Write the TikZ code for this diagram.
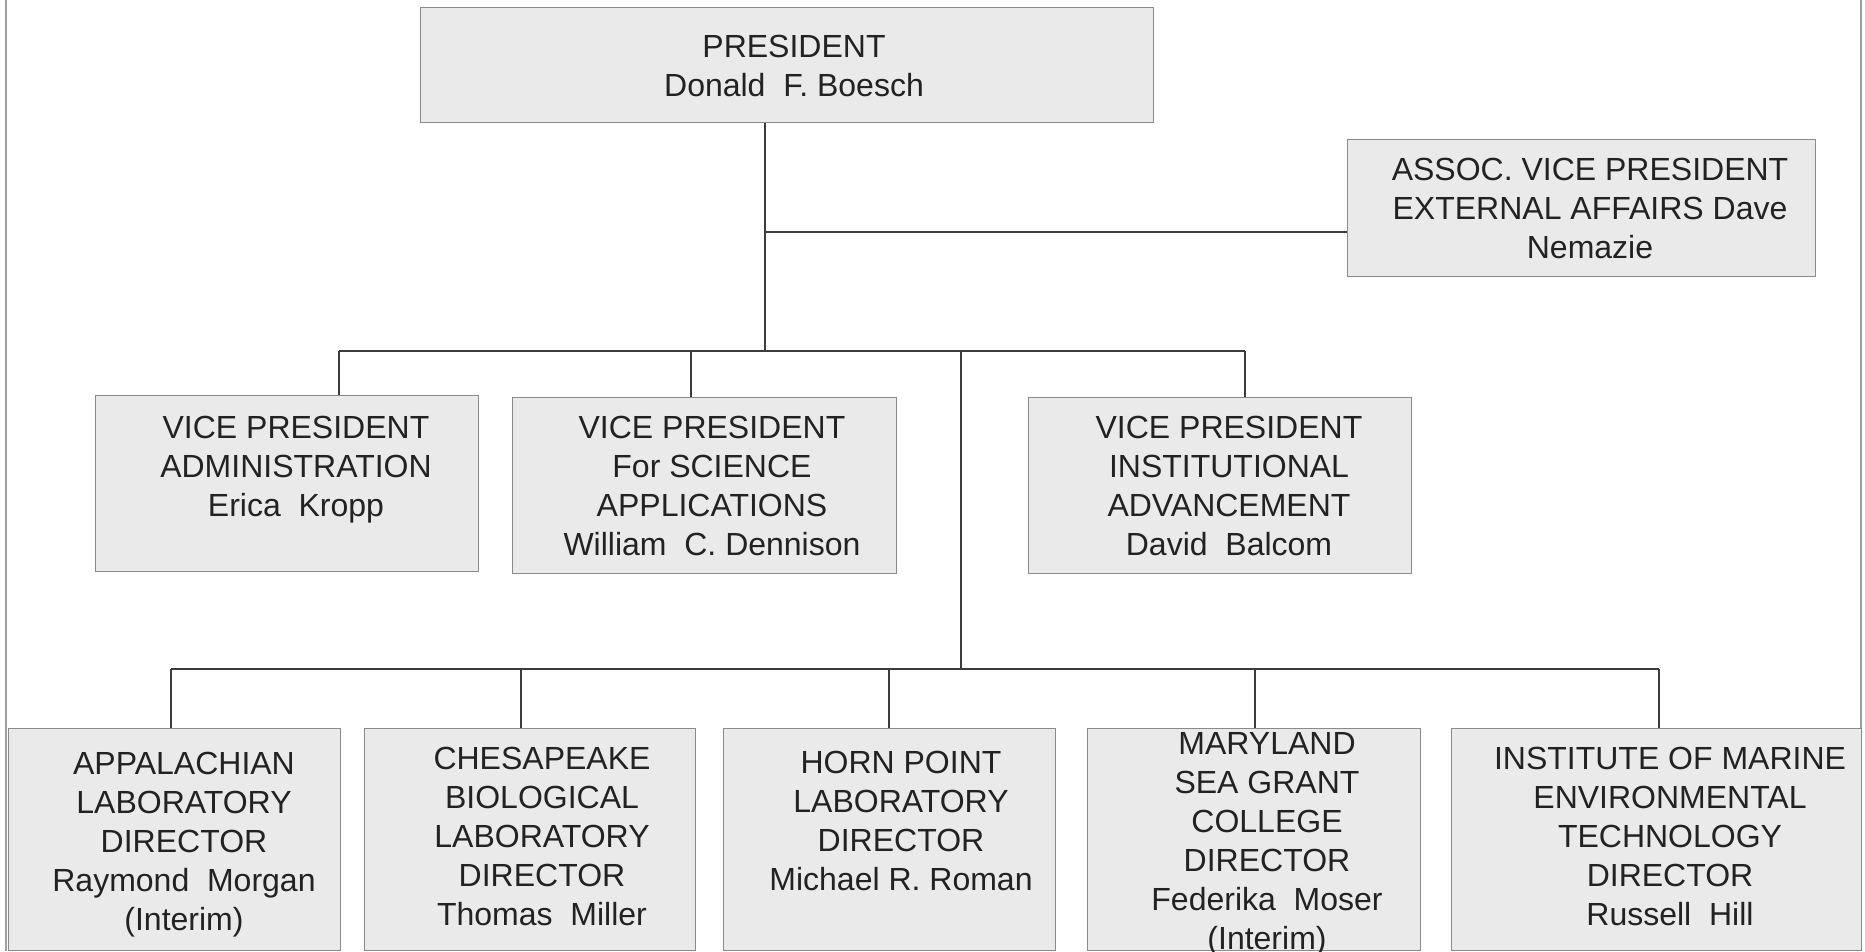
\documentclass[tikz,border=0pt]{standalone}
\usepackage{fontspec}
\setmainfont{Liberation Sans}
\definecolor{boxfill}{HTML}{EAEAEA}
\definecolor{boxline}{HTML}{8A8A8A}
\definecolor{linkcol}{HTML}{3C3C3C}
\definecolor{txtcol}{HTML}{222222}
\definecolor{framecol}{HTML}{A0A0A0}
\begin{document}
\begin{tikzpicture}[x=1pt,y=-1pt,
  box/.style={draw=boxline, fill=boxfill, line width=1.3pt, inner sep=0pt, anchor=north west},
  lbl/.style={anchor=north, inner sep=0pt, align=center, text=txtcol, font=\fontsize{32}{39}\selectfont},
  link/.style={draw=linkcol, line width=1.3pt},
  frameline/.style={draw=framecol, line width=2pt}]
\useasboundingbox (0,0) rectangle (1865,951);
% frame
\draw[frameline] (6,0) -- (6,951);
\draw[frameline] (1861,0) -- (1861,951);
% boxes
\node[box, minimum width=733pt, minimum height=115pt] (pres) at (420,7) {};
\node[box, minimum width=468pt, minimum height=137pt] (assoc) at (1347,139) {};
\node[box, minimum width=383pt, minimum height=176pt] (vp1) at (95,395) {};
\node[box, minimum width=384pt, minimum height=176pt] (vp2) at (512,397) {};
\node[box, minimum width=383pt, minimum height=176pt] (vp3) at (1028,397) {};
\node[box, minimum width=332pt, minimum height=222pt] (b1) at (8,728) {};
\node[box, minimum width=331pt, minimum height=222pt] (b2) at (364,728) {};
\node[box, minimum width=332pt, minimum height=222pt] (b3) at (723,728) {};
\node[box, minimum width=333pt, minimum height=222pt] (b4) at (1087,728) {};
\node[box, minimum width=410pt, minimum height=222pt] (b5) at (1451,728) {};
% texts
\node[lbl] (presT) at (794,34.5) {PRESIDENT\\Donald\ \ F. Boesch};
\node[lbl] (assocT) at (1590,157.5) {ASSOC. VICE PRESIDENT\\EXTERNAL AFFAIRS Dave\\Nemazie};
\node[lbl] (vp1T) at (296,415.5) {VICE PRESIDENT\\ADMINISTRATION\\Erica\ \ Kropp};
\node[lbl] (vp2T) at (712,415.5) {VICE PRESIDENT\\For SCIENCE\\APPLICATIONS\\William\ \ C. Dennison};
\node[lbl] (vp3T) at (1229,415.5) {VICE PRESIDENT\\INSTITUTIONAL\\ADVANCEMENT\\David\ \ Balcom};
\node[lbl] (b1T) at (184,751.5) {APPALACHIAN\\LABORATORY\\DIRECTOR\\Raymond\ \ Morgan\\(Interim)};
\node[lbl] (b2T) at (542,746.5) {CHESAPEAKE\\BIOLOGICAL\\LABORATORY\\DIRECTOR\\Thomas\ \ Miller};
\node[lbl] (b3T) at (901,750.5) {HORN POINT\\LABORATORY\\DIRECTOR\\Michael R. Roman};
\node[lbl] (b4T) at (1267,732.5) {MARYLAND\\SEA GRANT\\COLLEGE\\DIRECTOR\\Federika\ \ Moser\\(Interim)};
\node[lbl] (b5T) at (1670,746.5) {INSTITUTE OF MARINE\\ENVIRONMENTAL\\TECHNOLOGY\\DIRECTOR\\Russell\ \ Hill};
% junction coordinates
\coordinate (trunk) at (765,232);
\coordinate (vbM) at (765,351);
\coordinate (vbL) at (339,351);
\coordinate (vbR) at (1245,351);
\coordinate (d2) at (691,351);
\coordinate (dn) at (961,351);
\coordinate (bbL) at (171,669);
\coordinate (bbR) at (1659,669);
\coordinate (e2) at (521,669);
\coordinate (e3) at (889,669);
\coordinate (e4) at (1255,669);
% connectors
\draw[link] (pres.south -| vbM) -- (vbM);
\draw[link] (trunk) -- (trunk -| assoc.west);
\draw[link] (vbL) -- (vbR);
\draw[link] (vbL) -- (vbL |- vp1.north);
\draw[link] (d2) -- (d2 |- vp2.north);
\draw[link] (vbR) -- (vbR |- vp3.north);
\draw[link] (dn) -- (dn |- bbL);
\draw[link] (bbL) -- (bbR);
\draw[link] (bbL) -- (bbL |- b1.north);
\draw[link] (e2) -- (e2 |- b2.north);
\draw[link] (e3) -- (e3 |- b3.north);
\draw[link] (e4) -- (e4 |- b4.north);
\draw[link] (bbR) -- (bbR |- b5.north);
\end{tikzpicture}
\end{document}
